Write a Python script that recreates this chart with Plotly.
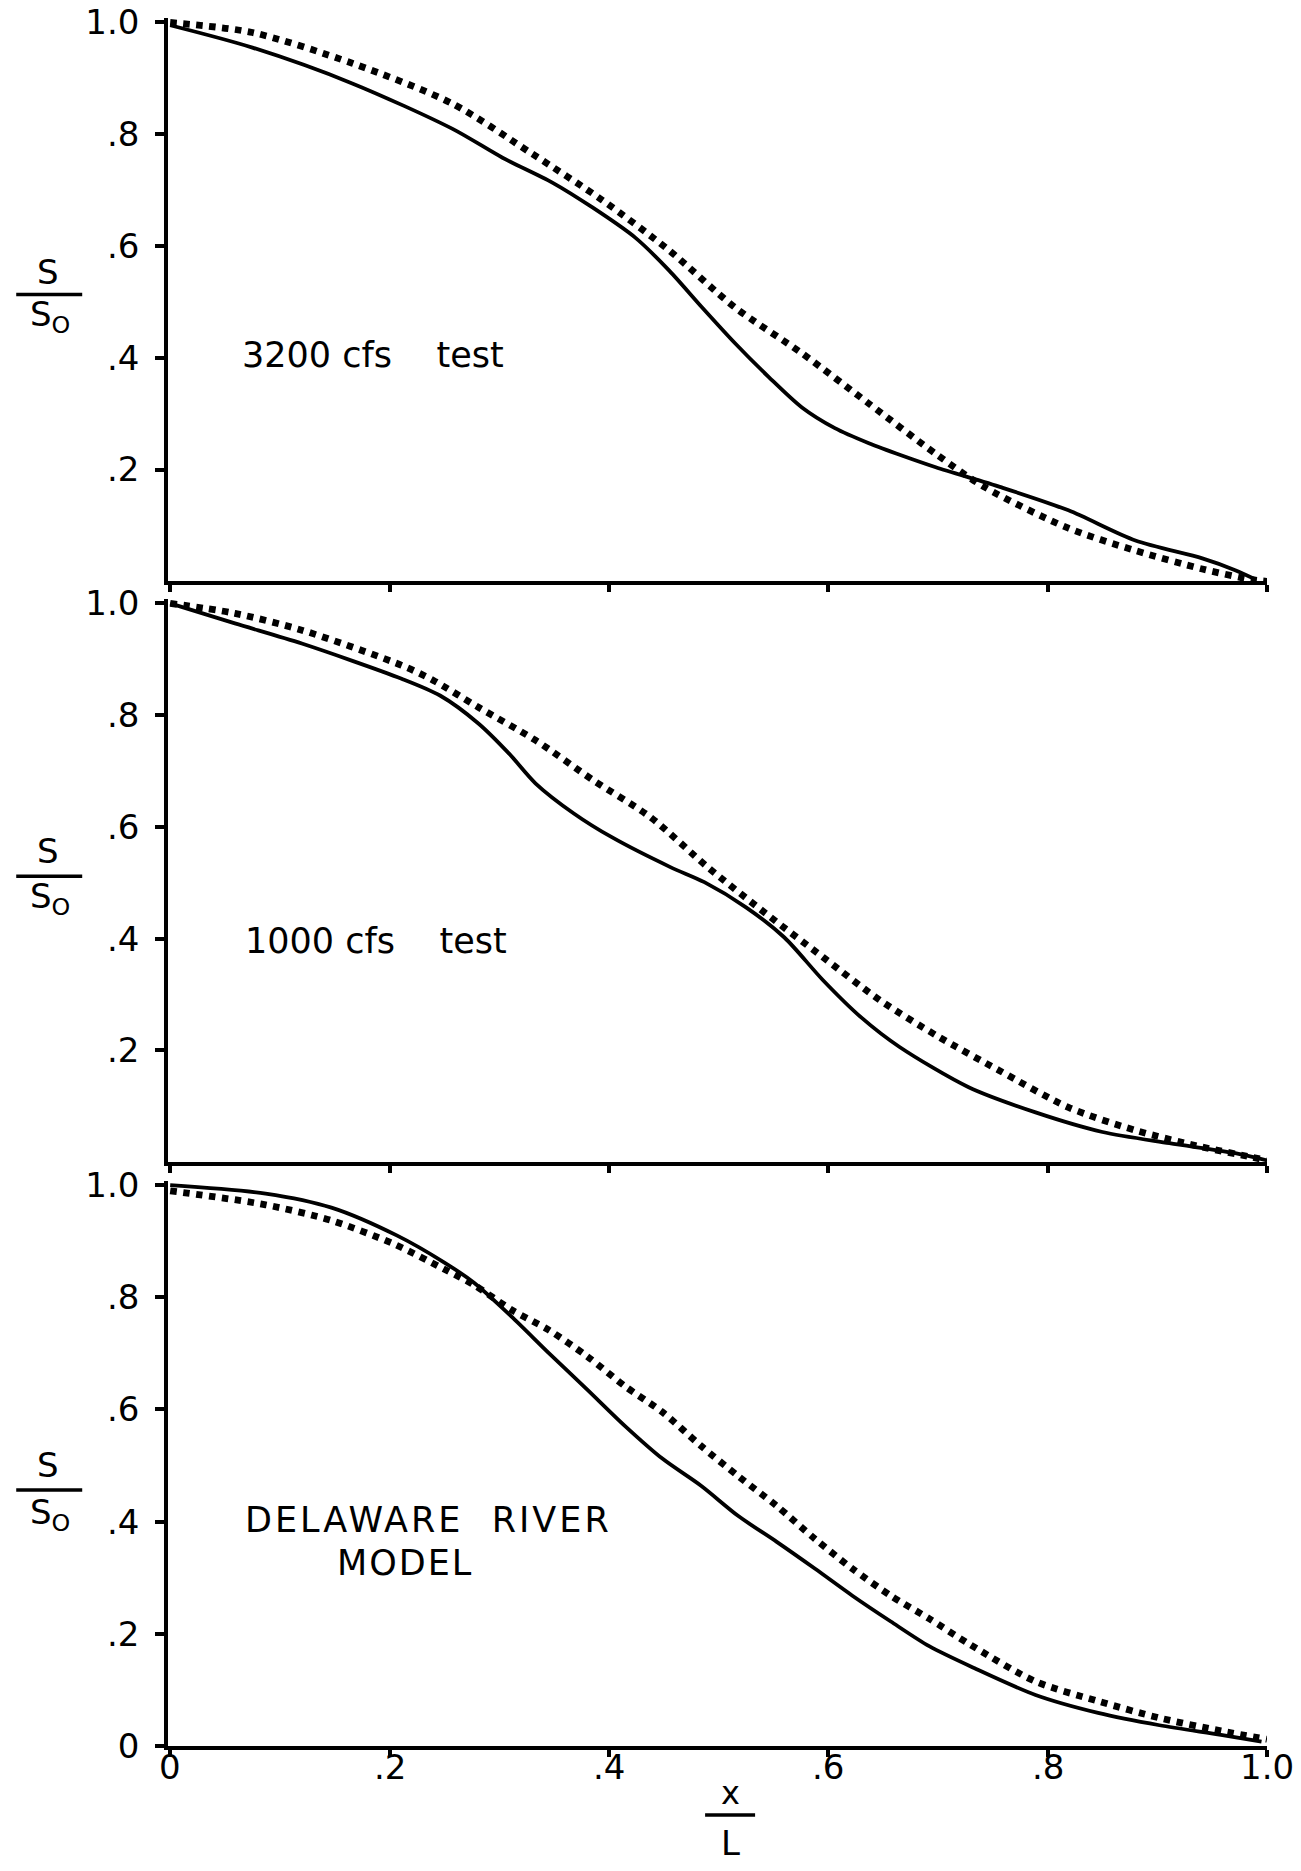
import plotly.graph_objects as go

# ---------------- data ----------------
top_solid_x = [0, 0.075, 0.166, 0.257, 0.303, 0.348, 0.385, 0.424, 0.455, 0.485, 0.515, 0.546, 0.576, 0.606, 0.637, 0.667, 0.698, 0.758, 0.819, 0.880, 0.941, 0.971, 0.99]
top_solid_y = [0.995, 0.955, 0.891, 0.81, 0.758, 0.714, 0.669, 0.615, 0.556, 0.490, 0.426, 0.365, 0.311, 0.274, 0.247, 0.225, 0.204, 0.168, 0.127, 0.073, 0.041, 0.020, 0.003]
top_dot_x = [0, 0.075, 0.166, 0.257, 0.330, 0.394, 0.455, 0.515, 0.576, 0.637, 0.698, 0.743, 0.819, 0.880, 0.941, 0.986, 1.0]
top_dot_y = [1.0, 0.982, 0.927, 0.855, 0.765, 0.682, 0.592, 0.490, 0.408, 0.318, 0.228, 0.168, 0.095, 0.055, 0.022, 0.003, 0.0]

mid_solid_x = [0, 0.059, 0.120, 0.211, 0.246, 0.281, 0.309, 0.333, 0.368, 0.403, 0.456, 0.487, 0.525, 0.560, 0.595, 0.630, 0.665, 0.728, 0.789, 0.850, 0.911, 0.971, 1.0]
mid_solid_y = [1.0, 0.964, 0.928, 0.865, 0.835, 0.785, 0.731, 0.678, 0.624, 0.581, 0.528, 0.501, 0.456, 0.402, 0.326, 0.259, 0.206, 0.134, 0.089, 0.054, 0.034, 0.016, 0.003]
mid_dot_x = [0, 0.059, 0.120, 0.211, 0.240, 0.281, 0.333, 0.386, 0.438, 0.490, 0.543, 0.595, 0.647, 0.700, 0.755, 0.819, 0.880, 0.941, 0.986, 1.0]
mid_dot_y = [1.0, 0.982, 0.952, 0.889, 0.862, 0.814, 0.755, 0.683, 0.617, 0.528, 0.445, 0.367, 0.290, 0.225, 0.165, 0.098, 0.057, 0.027, 0.009, 0.003]

bot_solid_x = [0, 0.087, 0.147, 0.207, 0.250, 0.277, 0.311, 0.345, 0.380, 0.415, 0.449, 0.484, 0.518, 0.553, 0.588, 0.622, 0.657, 0.692, 0.733, 0.789, 0.846, 0.902, 0.958, 0.995]
bot_solid_y = [1.0, 0.985, 0.960, 0.910, 0.862, 0.826, 0.766, 0.701, 0.636, 0.570, 0.512, 0.464, 0.410, 0.364, 0.316, 0.268, 0.222, 0.178, 0.139, 0.091, 0.059, 0.037, 0.020, 0.008]
bot_dot_x = [0, 0.087, 0.147, 0.204, 0.250, 0.277, 0.311, 0.345, 0.380, 0.415, 0.449, 0.484, 0.518, 0.553, 0.588, 0.622, 0.657, 0.692, 0.730, 0.789, 0.846, 0.902, 0.958, 1.0]
bot_dot_y = [0.99, 0.965, 0.937, 0.895, 0.850, 0.822, 0.778, 0.742, 0.695, 0.641, 0.595, 0.535, 0.481, 0.428, 0.369, 0.316, 0.268, 0.227, 0.180, 0.115, 0.080, 0.050, 0.027, 0.012]

panel_labels = ["3200 cfs&nbsp;&nbsp;&nbsp;&nbsp;test",
                "1000 cfs&nbsp;&nbsp;&nbsp;&nbsp;test",
                "<span style='letter-spacing:3px'>DELAWARE&nbsp;&nbsp;RIVER</span>"]
extra_label = "<span style='letter-spacing:2px'>MODEL</span>"

y_tickvals_upper = [0.2, 0.4, 0.6, 0.8, 1.0]
y_ticktext_upper = [".2", ".4", ".6", ".8", "1.0"]
y_tickvals_bottom = [0, 0.2, 0.4, 0.6, 0.8, 1.0]
y_ticktext_bottom = ["0", ".2", ".4", ".6", ".8", "1.0"]
x_tickvals = [0, 0.2, 0.4, 0.6, 0.8, 1.0]
x_ticktext = ["0", ".2", ".4", ".6", ".8", "1.0"]

# ---------------- layout geometry (page pixel positions) ----------------
W, H = 1301, 1871
FONT = "DejaVu Sans"
YMAX = 1.008
XMIN = -0.002

X0_PAGE, X1_PAGE = 170, 1267           # page x of data 0 and 1.0
panel_pages = [(581, 22), (1162, 603), (1746, 1185)]   # page y of data 0 and 1.0

xs = X1_PAGE - X0_PAGE
L = X0_PAGE + XMIN * xs
R = W - X1_PAGE
T = panel_pages[0][1] - (YMAX - 1) * (panel_pages[0][0] - panel_pages[0][1])
B = H - panel_pages[2][0]
PW = W - L - R
PH = H - T - B


def px_x(x):
    return (x - L) / PW


def px_y(y):
    return (H - B - y) / PH


domains = []
for y0, y1 in panel_pages:
    s = y0 - y1
    domains.append([max(0.0, px_y(y0)), min(1.0, px_y(y1 - (YMAX - 1) * s))])

fig = go.Figure()

panels = [
    (top_solid_x, top_solid_y, top_dot_x, top_dot_y),
    (mid_solid_x, mid_solid_y, mid_dot_x, mid_dot_y),
    (bot_solid_x, bot_solid_y, bot_dot_x, bot_dot_y),
]

for i, (sx, sy, dx, dy) in enumerate(panels):
    xa = "x" if i == 0 else f"x{i+1}"
    ya = "y" if i == 0 else f"y{i+1}"
    fig.add_trace(go.Scatter(x=sx, y=sy, xaxis=xa, yaxis=ya, mode="lines",
                             line=dict(color="black", width=3.8, shape="spline", smoothing=0.8),
                             showlegend=False, hoverinfo="skip"))
    fig.add_trace(go.Scatter(x=dx, y=dy, xaxis=xa, yaxis=ya, mode="lines",
                             line=dict(color="black", width=6.8, dash="6.5px,6.5px", shape="spline", smoothing=0.8),
                             showlegend=False, hoverinfo="skip"))

axis_common = dict(showgrid=False, zeroline=False, showline=True, linecolor="black", linewidth=3.5,
                   ticks="outside", tickwidth=3.5, tickcolor="black", automargin=False,
                   tickfont=dict(family=FONT, size=34, color="black"),
                   ticklabeloverflow="allow")

layout = dict(
    width=W, height=H,
    margin=dict(l=L, r=R, t=T, b=B, pad=0, autoexpand=False),
    paper_bgcolor="white", plot_bgcolor="white",
    showlegend=False,
)

for i in range(3):
    xk = "xaxis" if i == 0 else f"xaxis{i+1}"
    yk = "yaxis" if i == 0 else f"yaxis{i+1}"
    ya = "y" if i == 0 else f"y{i+1}"
    xa = "x" if i == 0 else f"x{i+1}"
    last = (i == 2)
    layout[xk] = dict(axis_common, domain=[0, 1], anchor=ya, range=[XMIN, 1.0],
                      tickvals=x_tickvals, showticklabels=False, ticklen=7)
    layout[yk] = dict(axis_common, domain=domains[i], anchor=xa, range=[0, YMAX],
                      tickvals=y_tickvals_bottom if last else y_tickvals_upper,
                      ticktext=y_ticktext_bottom if last else y_ticktext_upper,
                      ticklen=9, ticklabelstandoff=9)

fig.update_layout(**layout)

annotations = []
shapes = []

# x tick labels of the bottom panel, set close under the axis as in the original
for v, t in zip(x_tickvals, x_ticktext):
    annotations.append(dict(x=v, y=px_y(1767), xref="x3", yref="paper", text=t, showarrow=False,
                            xanchor="center", yanchor="middle",
                            font=dict(family=FONT, size=34, color="black")))

# panel text labels (page pixel positions)
label_px = [(240, 355), (243, 941), (243, 1520)]
for txt, (lx, ly) in zip(panel_labels, label_px):
    annotations.append(dict(x=px_x(lx), y=px_y(ly), xref="paper", yref="paper", text=txt, showarrow=False,
                            xanchor="left", yanchor="middle",
                            font=dict(family=FONT, size=35, color="black")))
annotations.append(dict(x=px_x(405), y=px_y(1563), xref="paper", yref="paper", text=extra_label, showarrow=False,
                        xanchor="center", yanchor="middle",
                        font=dict(family=FONT, size=35, color="black")))

# S / S0 labels (page pixel positions of the fraction)
frac_rows = [(272, 294, 316), (851, 876, 898), (1465, 1490, 1514)]
for s_y, bar_y, so_y in frac_rows:
    annotations.append(dict(x=px_x(48), y=px_y(s_y), xref="paper", yref="paper", text="S",
                            showarrow=False, xanchor="center", yanchor="middle",
                            font=dict(family=FONT, size=34, color="black")))
    annotations.append(dict(x=px_x(50), y=px_y(so_y), xref="paper", yref="paper",
                            text="S<sub>O</sub>", showarrow=False, xanchor="center", yanchor="middle",
                            font=dict(family=FONT, size=34, color="black")))
    shapes.append(dict(type="line", xref="paper", yref="paper",
                       x0=px_x(16), x1=px_x(82), y0=px_y(bar_y), y1=px_y(bar_y),
                       line=dict(color="black", width=3.5)))

# x / L label
annotations.append(dict(x=px_x(730), y=px_y(1793), xref="paper", yref="paper", text="x",
                        showarrow=False, xanchor="center", yanchor="middle",
                        font=dict(family=FONT, size=32, color="black")))
annotations.append(dict(x=px_x(730), y=px_y(1843), xref="paper", yref="paper", text="L",
                        showarrow=False, xanchor="center", yanchor="middle",
                        font=dict(family=FONT, size=34, color="black")))
shapes.append(dict(type="line", xref="paper", yref="paper",
                   x0=px_x(705), x1=px_x(755), y0=px_y(1815), y1=px_y(1815),
                   line=dict(color="black", width=3.5)))

fig.update_layout(annotations=annotations, shapes=shapes)

fig.write_html("out.html", config={"displayModeBar": False},
               post_script="document.body.style.margin='0';document.body.style.overflow='hidden';")
